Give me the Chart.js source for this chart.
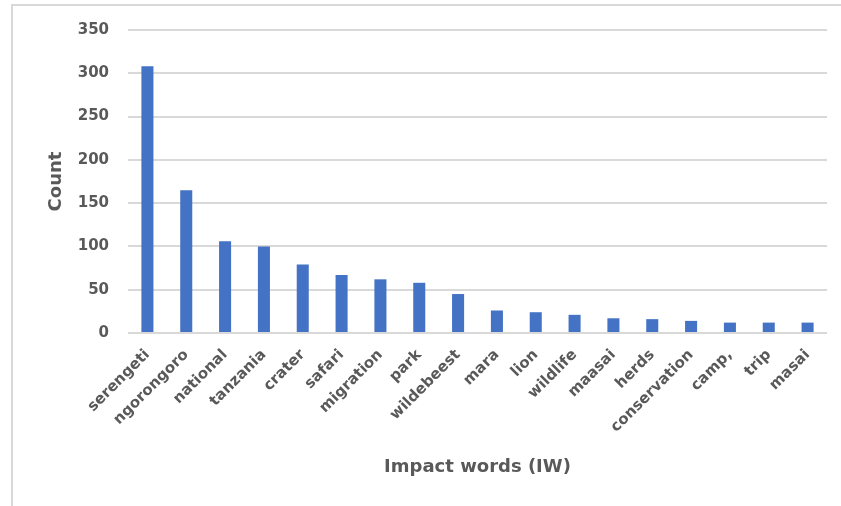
<!DOCTYPE html>
<html>
<head>
<meta charset="utf-8">
<script src="https://cdn.jsdelivr.net/npm/chart.js@4/dist/chart.umd.min.js"></script>
<style>
  html, body { margin: 0; padding: 0; background: #ffffff; }
  body { width: 841px; height: 506px; overflow: hidden; position: relative; }
  #frame {
    position: absolute; left: 11px; top: 4px;
    width: 840px; height: 510px;
    border: 2px solid #d9d9d9; box-sizing: border-box;
  }
  #wrap { position: absolute; left: 0; top: 0; width: 841px; height: 506px; }
</style>
</head>
<body>
<div id="frame"></div>
<div id="wrap"><canvas id="c" width="841" height="506"></canvas></div>
<script>
// Word frequencies for the most common impact words
const words = ["serengeti", "ngorongoro", "national", "tanzania", "crater", "safari",
  "migration", "park", "wildebeest", "mara", "lion", "wildlife", "maasai", "herds",
  "conservation", "camp,", "trip", "masai"];
const counts = [308, 165, 106, 100, 79, 67, 62, 58, 45, 26, 24, 21, 17, 16, 14, 12, 12, 12];
const countTicks = [0, 50, 100, 150, 200, 250, 300, 350];

const textColor = "#595959";
const fontFamily = "'DejaVu Sans', sans-serif";

new Chart(document.getElementById("c"), {
  type: "bar",
  data: {
    labels: words,
    datasets: [{
      label: "Count",
      data: counts,
      backgroundColor: "#4472c4",
      borderWidth: 0,
      barPercentage: 0.62,
      categoryPercentage: 0.5
    }]
  },
  options: {
    responsive: false,
    animation: false,
    layout: { padding: { left: 0, right: 14, top: 30, bottom: 0 } },
    plugins: { legend: { display: false }, tooltip: { enabled: false } },
    scales: {
      x: {
        afterFit: (axis) => { axis.height = 173; },
        grid: { display: false, drawTicks: false },
        border: { display: false },
        ticks: {
          color: textColor, maxRotation: 45, minRotation: 45, autoSkip: false, padding: 13,
          font: { family: fontFamily, size: 15, weight: "bold" }
        },
        title: {
          display: true, text: "Impact words (IW)", color: textColor,
          padding: { top: 4, bottom: 28 },
          font: { family: fontFamily, size: 18, weight: "bold" }
        }
      },
      y: {
        min: 0, max: 350,
        afterBuildTicks: (axis) => { axis.ticks = countTicks.map(v => ({ value: v })); },
        afterFit: (axis) => { axis.width = 128; },
        grid: { color: "#d9d9d9", lineWidth: 2, drawTicks: false },
        border: { display: false },
        ticks: {
          color: textColor, padding: 19,
          font: { family: fontFamily, size: 15, weight: "bold" }
        },
        title: {
          display: true, text: "Count", color: textColor, padding: { top: 46, bottom: 0 },
          font: { family: fontFamily, size: 18, weight: "bold" }
        }
      }
    }
  }
});
</script>
</body>
</html>
